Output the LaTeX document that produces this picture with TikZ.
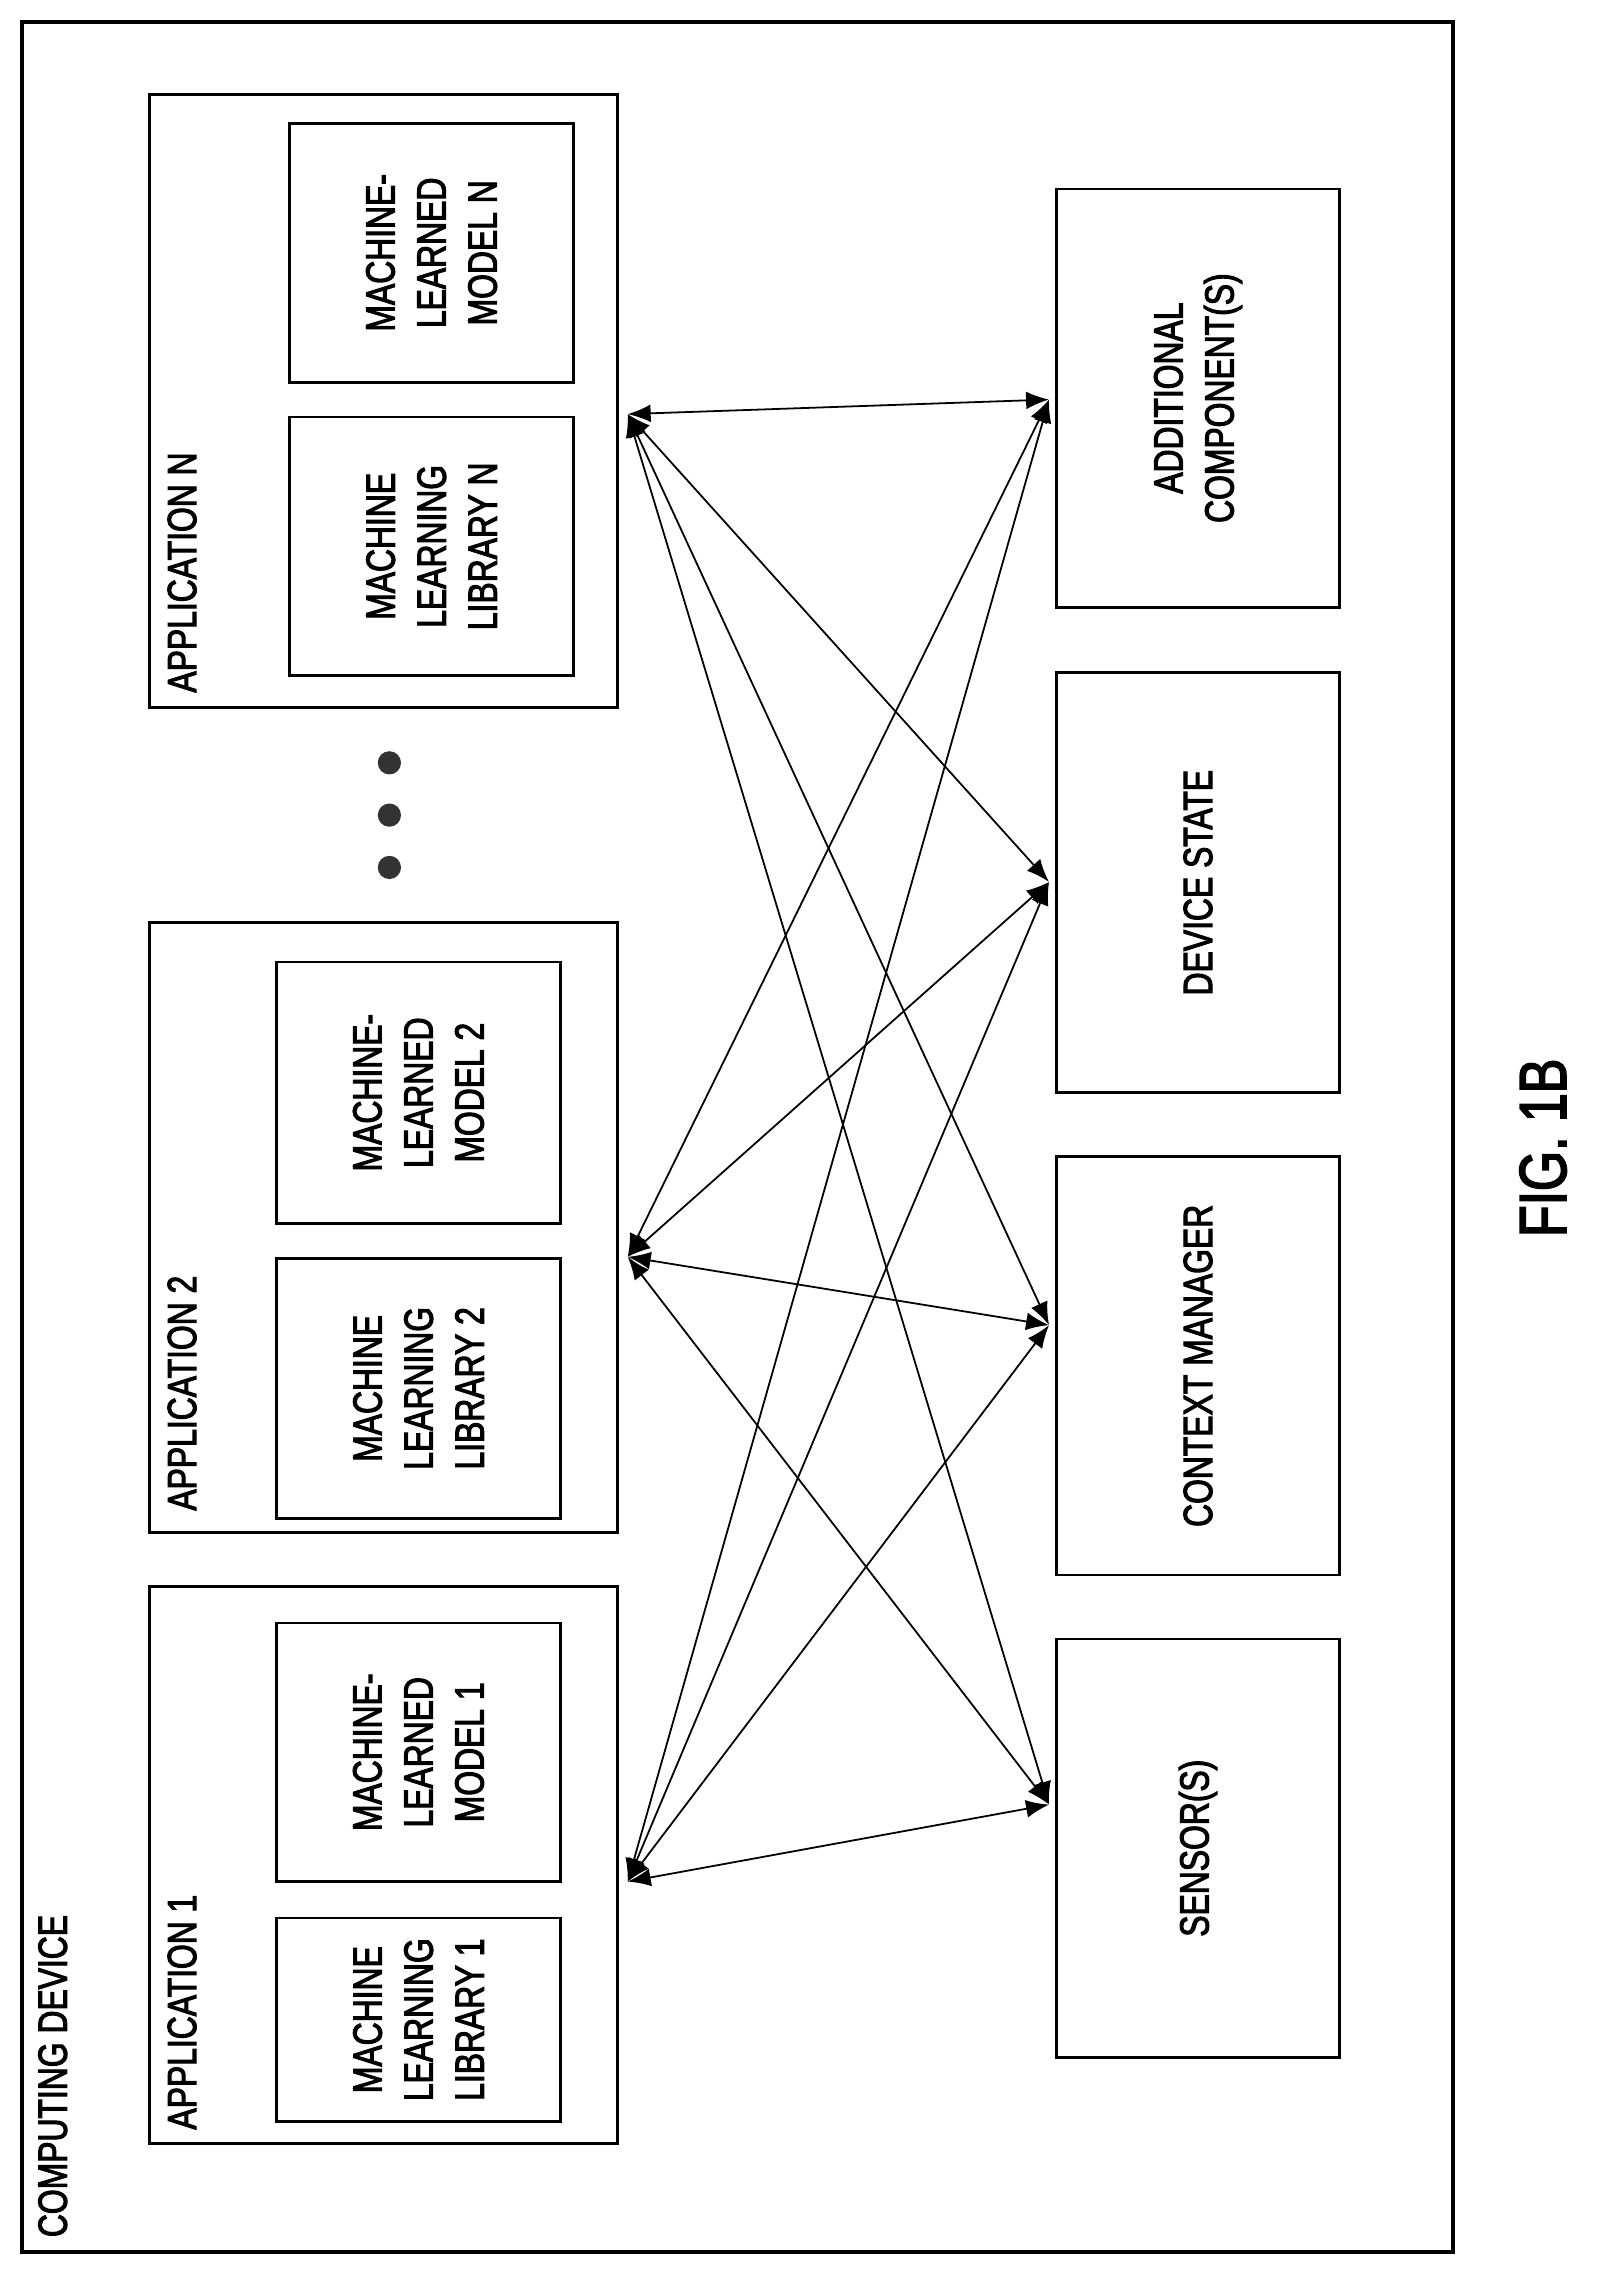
\documentclass[tikz,border=0pt]{standalone}
\usepackage{fontspec}
\setmainfont[FakeStretch=0.78,FakeBold=2.5]{Liberation Sans}
\usetikzlibrary{arrows.meta,positioning}
\begin{document}
\begin{tikzpicture}[x=0.02cm,y=-0.02cm,
    blk/.style={draw, line width=1.1pt, rotate=90, align=center, inner sep=0pt,
      font=\fontsize{16}{20}\selectfont},
    lbl/.style={rotate=90, anchor=north west, inner sep=0pt,
      font=\fontsize{16}{20}\selectfont},
    link/.style={{Latex[length=9pt,width=7pt]}-{Latex[length=9pt,width=7pt]}, line width=0.7pt}]
    \useasboundingbox (0,0) rectangle (1100,1563);
    \draw[line width=1.4pt] (15,15) rectangle (1000,1550);
    \node[lbl] (dev) at (26,1540) {COMPUTING DEVICE};

    % applications
    \node[blk, minimum width=8.44cm, minimum height=6.44cm] (appN) at (264,276) {};
    \node[blk, minimum width=8.4cm, minimum height=6.44cm] (app2) at (264,845) {};
    \node[blk, minimum width=7.66cm, minimum height=6.44cm] (app1) at (264,1283.5) {};
    \node[lbl] (tN) at (115,477) {APPLICATION N};
    \node[lbl] (t2) at (115,1040) {APPLICATION 2};
    \node[lbl] (t1) at (115,1466) {APPLICATION 1};

    \node[blk, minimum width=3.56cm, minimum height=3.9cm] (libN) at (297,376) {MACHINE\\LEARNING\\LIBRARY N};
    \node[blk, minimum width=3.56cm, minimum height=3.9cm] (mdlN) at (297,174) {MACHINE-\\LEARNED\\MODEL N};
    \node[blk, minimum width=3.58cm, minimum height=3.9cm] (lib2) at (288,955.5) {MACHINE\\LEARNING\\LIBRARY 2};
    \node[blk, minimum width=3.6cm, minimum height=3.9cm] (mdl2) at (288,752) {MACHINE-\\LEARNED\\MODEL 2};
    \node[blk, minimum width=2.8cm, minimum height=3.9cm] (lib1) at (288,1390) {MACHINE\\LEARNING\\LIBRARY 1};
    \node[blk, minimum width=3.56cm, minimum height=3.9cm] (mdl1) at (288,1206) {MACHINE-\\LEARNED\\MODEL 1};

    \foreach \y in {525,561,597}
      \fill[black!80] (268,\y) circle (8);

    % components
    \node[blk, minimum width=5.76cm, minimum height=3.9cm] (addc) at (824.5,274) {ADDITIONAL\\COMPONENT(S)};
    \node[blk, minimum width=5.78cm, minimum height=3.9cm] (state) at (824.5,607.5) {DEVICE STATE};
    \node[blk, minimum width=5.76cm, minimum height=3.9cm] (ctx) at (824.5,940) {CONTEXT MANAGER};
    \node[blk, minimum width=5.76cm, minimum height=3.9cm] (sens) at (824.5,1272) {SENSOR(S)};

    \coordinate (aN) at (432,285);
    \coordinate (a2) at (432,865);
    \coordinate (a1) at (432,1295);
    \coordinate (cA) at (722,275);
    \coordinate (cD) at (722,607);
    \coordinate (cC) at (722,912);
    \coordinate (cS) at (722,1242);
    \foreach \a in {aN,a2,a1}
      \foreach \c in {cA,cD,cC,cS}
        \draw[link] (\a) -- (\c);

    \node[rotate=90, font=\fontsize{26}{30}\selectfont] (fig) at (1062,790) {FIG. 1B};
\end{tikzpicture}
\end{document}
